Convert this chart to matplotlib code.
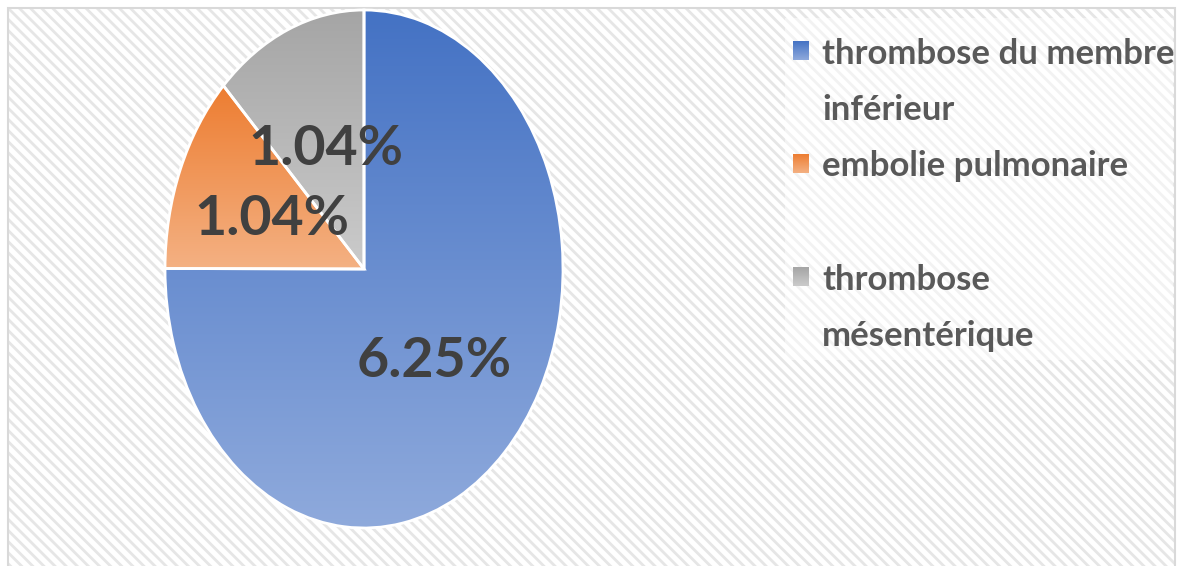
import numpy as np
import matplotlib
matplotlib.use("Agg")
import matplotlib.pyplot as plt
from matplotlib.colors import LinearSegmentedColormap
from matplotlib.patches import Rectangle

# Complications thromboemboliques (%)
categories = ["thrombose du membre\ninférieur", "embolie pulmonaire", "thrombose\nmésentérique"]
values = [6.25, 1.04, 1.04]

# couleurs haut / bas du dégradé de chaque part
top_colors = ["#4472C4", "#ED7D31", "#A5A5A5"]
bottom_colors = ["#8FAADC", "#F4B183", "#CBCBCB"]

W, H = 1180, 566
LINE = 56.5  # interligne de la légende, en pixels

plt.rcParams['font.family'] = ['Lato', 'DejaVu Sans']
plt.rcParams['hatch.linewidth'] = 2.0


def gradient_fill(ax, patch, top, bottom, extent, zorder=1):
    """Remplit un patch avec un dégradé vertical"""
    cmap = LinearSegmentedColormap.from_list("g", [top, bottom])
    grad = np.linspace(0, 1, 256).reshape(-1, 1)
    im = ax.imshow(grad, cmap=cmap, extent=extent, origin='upper',
                   aspect='auto', zorder=zorder, interpolation='bilinear')
    im.set_clip_path(patch)
    return im


fig = plt.figure(figsize=(W / 100, H / 100), dpi=100)
fig.patch.set_facecolor('white')

# fond en coordonnées pixels (y vers le haut)
bg = fig.add_axes([0, 0, 1, 1])
bg.set_xlim(0, W)
bg.set_ylim(0, H)
bg.axis('off')

# zone du graphique hachurée + bordure
bg.add_patch(Rectangle((8, -10), 1167, H - 8 + 10, facecolor='white',
                       edgecolor='#e6e6e6', hatch='\\\\\\', linewidth=0, zorder=0))
bg.add_patch(Rectangle((8, -10), 1167, H - 8 + 10, facecolor='none',
                       edgecolor='#d9d9d9', linewidth=1.5, zorder=0.5))
# fond plus clair derrière la légende
bg.add_patch(Rectangle((785, H - 360), 388, 342, facecolor='white',
                       edgecolor='none', alpha=0.5, zorder=0.6))

# camembert (étiré verticalement)
ax = fig.add_axes([165 / W, (H - 528) / H, 398 / W, 518 / H])
total = sum(values)
wedges, texts, autotexts = ax.pie(
    values, startangle=90, counterclock=False, colors=top_colors,
    autopct=lambda p: f"{p * total / 100:.2f}%", pctdistance=0.5,
    wedgeprops=dict(edgecolor='white', linewidth=2),
    textprops=dict(fontsize=40, fontweight='bold', color='#404040'))

for w, top, bottom in zip(wedges, top_colors, bottom_colors):
    verts = w.get_path().transformed(w.get_patch_transform()).vertices
    y0, y1 = verts[:, 1].min(), verts[:, 1].max()
    x0, x1 = verts[:, 0].min(), verts[:, 0].max()
    gradient_fill(ax, w, top, bottom, (x0, x1, y0, y1), zorder=1)
    w.set_facecolor('none')
    w.set_zorder(2)
    w.set_clip_on(False)

for t in autotexts:
    t.set_zorder(3)

ax.set_aspect('auto')
ax.set_xlim(-1, 1)
ax.set_ylim(-1, 1)
ax.axis('off')

# légende : chaque entrée occupe deux lignes
for i, (lab, top, bottom) in enumerate(zip(categories, top_colors, bottom_colors)):
    base = 63 + i * 2 * LINE          # ligne de base de la 1re ligne
    nlines = lab.count("\n") + 1
    sq = Rectangle((793, H - base + 3), 16, 19, facecolor='none',
                   edgecolor='none', zorder=2)
    bg.add_patch(sq)
    gradient_fill(bg, sq, top, bottom, (793, 809, H - base + 3, H - base + 22), zorder=2)
    bg.text(822, H - base - (nlines - 1) * LINE, lab, fontsize=25, fontweight='bold',
            color='#595959', ha='left', va='baseline', linespacing=1.9, zorder=3)

fig.savefig("out.png", dpi=100, facecolor='white')
